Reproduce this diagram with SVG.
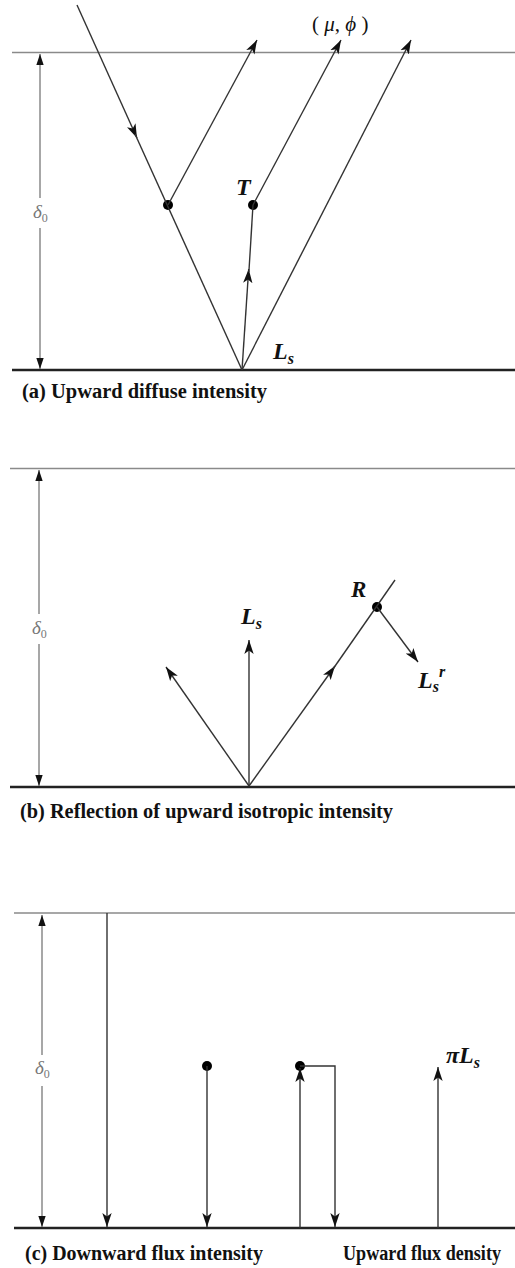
<svg xmlns="http://www.w3.org/2000/svg" width="515" height="1268" viewBox="0 0 515 1268">
<defs>
<marker id="ah" viewBox="0 0 12 8" refX="12" refY="4" markerWidth="14" markerHeight="10" markerUnits="userSpaceOnUse" orient="auto">
<path d="M0,0 L12,4 L0,8 L3,4 z" fill="#111"/>
</marker>
<marker id="ahg" viewBox="0 0 12 8" refX="12" refY="4" markerWidth="11" markerHeight="8" markerUnits="userSpaceOnUse" orient="auto">
<path d="M0,0 L12,4 L0,8 z" fill="#111"/>
</marker>
</defs>
<style>
.top{stroke:#8a8a8a;stroke-width:1.5;fill:none}
.bot{stroke:#222;stroke-width:2.5;fill:none}
.dim{stroke:#8a8a8a;stroke-width:1.5;fill:none}
.ray{stroke:#333;stroke-width:1.4;fill:none}
.dot{fill:#000}
.cap{font-family:"Liberation Serif",serif;font-weight:bold;font-size:20px;fill:#111}
.sym{font-family:"Liberation Serif",serif;font-weight:bold;font-style:italic;font-size:24px;fill:#111}
.dl{font-family:"Liberation Serif",serif;font-style:italic;font-size:19px;fill:#777}
</style>
<rect width="515" height="1268" fill="#fff"/>

<!-- Panel (a) -->
<g id="panel-a">
<line class="top" x1="12" y1="52.5" x2="515" y2="52.5"/>
<line class="bot" x1="12" y1="370" x2="515" y2="370"/>
<g id="dim-a">
<line class="dim" x1="40" y1="198" x2="40" y2="54" marker-end="url(#ahg)"/>
<line class="dim" x1="40" y1="228" x2="40" y2="369" marker-end="url(#ahg)"/>
<text class="dl" x="33" y="218">δ<tspan font-style="normal" font-size="12" dy="4">0</tspan></text>
</g>
<g id="a-dot1"><circle class="dot" cx="168" cy="205" r="5"/></g>
<g id="a-dotT"><circle class="dot" cx="253" cy="205" r="5"/><text class="sym" x="236" y="195">T</text></g>
<g id="a-Ls"><text class="sym" x="273" y="359">L<tspan font-size="16" dy="5">s</tspan></text></g>
<g id="a-mu"><text x="312" y="31" font-family="Liberation Serif,serif" font-size="21" fill="#111">( <tspan font-style="italic">μ</tspan>, <tspan font-style="italic">ϕ</tspan> )</text></g>
<g id="connectors-a">
<line class="ray" x1="77" y1="5" x2="137" y2="138" marker-end="url(#ah)"/>
<line class="ray" x1="135" y1="134" x2="242" y2="370"/>
<line class="ray" x1="168" y1="205" x2="257" y2="40" marker-end="url(#ah)"/>
<line class="ray" x1="253" y1="205" x2="341" y2="40" marker-end="url(#ah)"/>
<line class="ray" x1="242" y1="370" x2="248.7" y2="269" marker-end="url(#ah)"/>
<line class="ray" x1="248.9" y1="272" x2="253" y2="205"/>
<line class="ray" x1="242" y1="370" x2="411" y2="40" marker-end="url(#ah)"/>
</g>
<text class="cap" x="22" y="398" textLength="245" lengthAdjust="spacingAndGlyphs">(a)  Upward diffuse intensity</text>
</g>

<!-- Panel (b) -->
<g id="panel-b">
<line class="top" x1="10" y1="468.5" x2="515" y2="468.5"/>
<line class="bot" x1="10" y1="787" x2="515" y2="787"/>
<g id="dim-b">
<line class="dim" x1="39" y1="614" x2="39" y2="470" marker-end="url(#ahg)"/>
<line class="dim" x1="39" y1="644" x2="39" y2="786" marker-end="url(#ahg)"/>
<text class="dl" x="32" y="634">δ<tspan font-style="normal" font-size="12" dy="4">0</tspan></text>
</g>
<g id="b-R"><circle class="dot" cx="377" cy="607" r="5"/><text x="351" y="597" font-family="Liberation Serif,serif" font-style="italic" font-weight="bold" font-size="23" fill="#111">R</text></g>
<g id="b-Ls"><text class="sym" x="241" y="624">L<tspan font-size="16" dy="5">s</tspan></text></g>
<g id="b-Lsr"><text class="sym" x="418" y="688">L<tspan font-size="16" dy="4">s</tspan><tspan font-size="16" dy="-15">r</tspan></text></g>
<g id="connectors-b">
<line class="ray" x1="249" y1="786" x2="166" y2="667" marker-end="url(#ah)"/>
<line class="ray" x1="249" y1="786" x2="249" y2="640" marker-end="url(#ah)"/>
<line class="ray" x1="249" y1="786" x2="335" y2="666" marker-end="url(#ah)"/>
<line class="ray" x1="333" y1="669" x2="395" y2="580"/>
<line class="ray" x1="377" y1="607" x2="418" y2="662" marker-end="url(#ah)"/>
</g>
<text class="cap" x="20" y="818" textLength="373" lengthAdjust="spacingAndGlyphs">(b)  Reflection of upward isotropic intensity</text>
</g>

<!-- Panel (c) -->
<g id="panel-c">
<line class="top" x1="14" y1="913" x2="515" y2="913"/>
<line class="bot" x1="14" y1="1228" x2="515" y2="1228"/>
<g id="dim-c">
<line class="dim" x1="42" y1="1055" x2="42" y2="915" marker-end="url(#ahg)"/>
<line class="dim" x1="42" y1="1086" x2="42" y2="1227" marker-end="url(#ahg)"/>
<text class="dl" x="35" y="1074">δ<tspan font-style="normal" font-size="12" dy="4">0</tspan></text>
</g>
<g id="c-dot1"><circle class="dot" cx="207" cy="1066" r="5"/></g>
<g id="c-dot2"><circle class="dot" cx="300" cy="1066" r="5"/></g>
<g id="c-piLs"><text class="sym" x="446" y="1063">πL<tspan font-size="16" dy="5">s</tspan></text></g>
<g id="connectors-c">
<line class="ray" x1="107" y1="913" x2="107" y2="1227" marker-end="url(#ah)"/>
<line class="ray" x1="207" y1="1066" x2="207" y2="1227" marker-end="url(#ah)"/>
<line class="ray" x1="300" y1="1228" x2="300" y2="1068" marker-end="url(#ah)"/>
<polyline class="ray" points="300,1066 335,1066 335,1227" marker-end="url(#ah)"/>
<line class="ray" x1="438" y1="1228" x2="438" y2="1067" marker-end="url(#ah)"/>
</g>
<text class="cap" x="25" y="1260" textLength="238" lengthAdjust="spacingAndGlyphs">(c)  Downward flux intensity</text>
<text class="cap" x="343" y="1260" font-size="19" textLength="158" lengthAdjust="spacingAndGlyphs">Upward flux density</text>
</g>
</svg>
